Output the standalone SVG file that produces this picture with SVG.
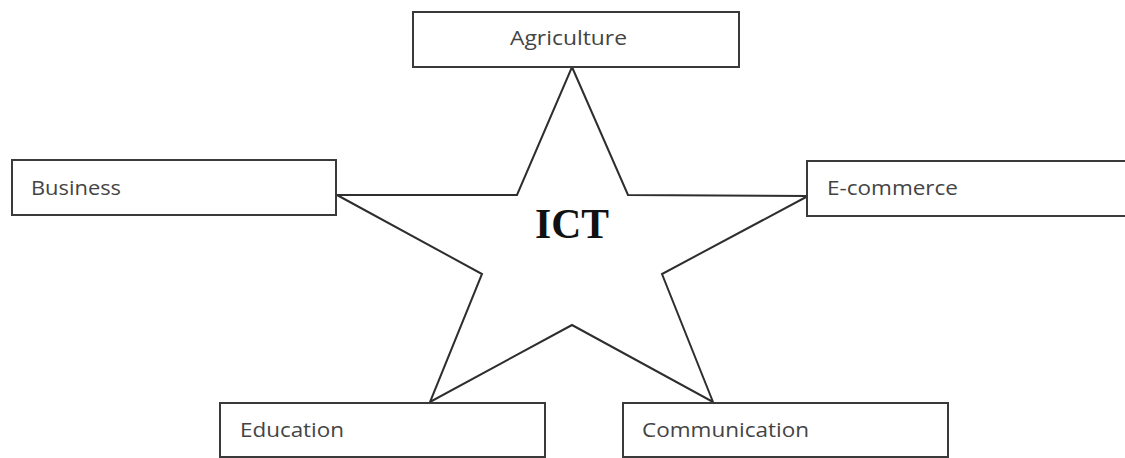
<svg xmlns="http://www.w3.org/2000/svg" width="1125" height="458" viewBox="0 0 1125 458">
<style>
.box{fill:#fff;stroke:#3a3a3a;stroke-width:2}
.star{fill:#fff;stroke:#2e2e2e;stroke-width:2;stroke-linejoin:miter}
.lbl{font-family:"Open Sans","Liberation Sans",sans-serif;font-size:20.5px;fill:#444}
.ict{font-family:"Liberation Serif","Times New Roman",serif;font-size:42px;font-weight:bold;fill:#111}
</style>
<rect width="1125" height="458" fill="#fff"/>
<g id="connectors"></g>
<g id="ict">
<polygon class="star" points="572,67 628,195 808,196 662,274 713,402 572,325 430,402 482,274 337,195 517,195"/>
<text class="ict" x="535" y="238" textLength="74" lengthAdjust="spacingAndGlyphs">ICT</text>
</g>
<g id="agriculture">
<rect class="box" x="413" y="12" width="326" height="55"/>
<text class="lbl" x="510" y="45" textLength="117" lengthAdjust="spacingAndGlyphs">Agriculture</text>
</g>
<g id="business">
<rect class="box" x="12" y="160" width="324" height="55"/>
<text class="lbl" x="31" y="195" textLength="90" lengthAdjust="spacingAndGlyphs">Business</text>
</g>
<g id="ecommerce">
<rect class="box" x="807" y="161" width="330" height="55"/>
<text class="lbl" x="827" y="195" textLength="131" lengthAdjust="spacingAndGlyphs">E-commerce</text>
</g>
<g id="education">
<rect class="box" x="220" y="403" width="325" height="54"/>
<text class="lbl" x="240" y="437" textLength="104" lengthAdjust="spacingAndGlyphs">Education</text>
</g>
<g id="communication">
<rect class="box" x="623" y="403" width="325" height="54"/>
<text class="lbl" x="642" y="437" textLength="167" lengthAdjust="spacingAndGlyphs">Communication</text>
</g>
</svg>
